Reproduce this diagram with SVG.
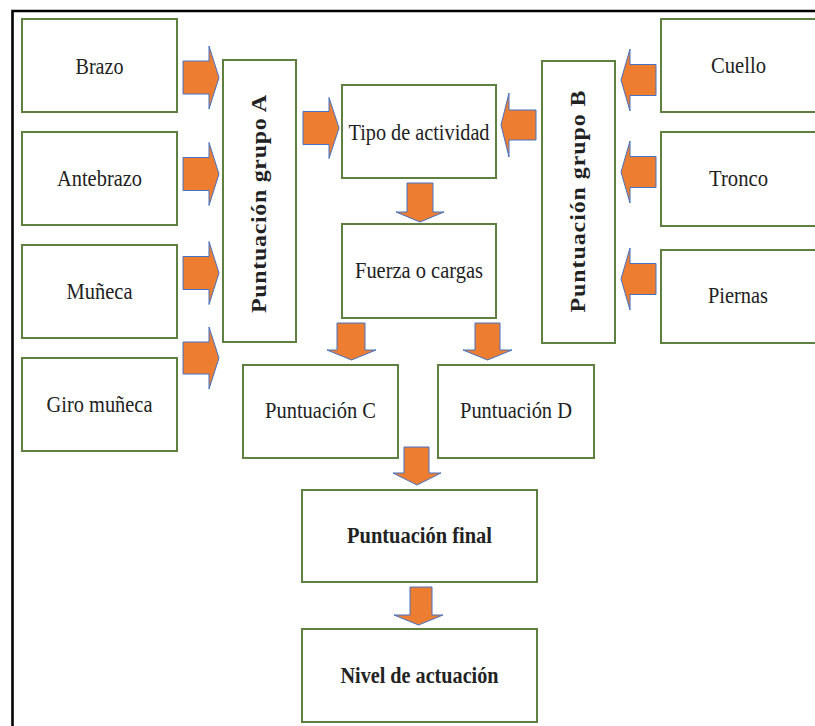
<svg xmlns="http://www.w3.org/2000/svg" width="815" height="726" viewBox="0 0 815 726">
<style>
.box{fill:#fff;stroke:#5E8040;stroke-width:2}
.t{font-family:'Liberation Serif','DejaVu Serif',serif;font-size:24px;fill:#222;text-anchor:middle;font-weight:normal}
.b{font-weight:bold}
.ar{fill:#ED7D31;stroke:#4472C4;stroke-width:1;stroke-linejoin:miter}
</style>
<rect width="815" height="726" fill="#fff"/>
<g id="frame" stroke="#000" stroke-width="2.6" fill="none">
<path d="M12.5 726 V11 H815"/>
</g>
<g id="n-brazo"><rect class="box" x="22" y="19" width="155" height="93"/><text class="t" x="99.5" y="74" textLength="48" lengthAdjust="spacingAndGlyphs">Brazo</text></g>
<g id="n-antebrazo"><rect class="box" x="22" y="132" width="155" height="93"/><text class="t" x="99.5" y="186" textLength="85" lengthAdjust="spacingAndGlyphs">Antebrazo</text></g>
<g id="n-muneca"><rect class="box" x="22" y="245" width="155" height="93"/><text class="t" x="99.5" y="299" textLength="66" lengthAdjust="spacingAndGlyphs">Muñeca</text></g>
<g id="n-giro"><rect class="box" x="22" y="358" width="155" height="93"/><text class="t" x="99.5" y="412" textLength="106" lengthAdjust="spacingAndGlyphs">Giro muñeca</text></g>
<g id="n-grupoA"><rect class="box" x="223" y="60" width="73" height="282"/><text class="t b" transform="translate(266,204) rotate(-90) scale(1,0.85)" x="0" y="0" textLength="218" lengthAdjust="spacing">Puntuación grupo A</text></g>
<g id="n-tipo"><rect class="box" x="342" y="85" width="154" height="93"/><text class="t" x="419" y="140" textLength="141" lengthAdjust="spacingAndGlyphs">Tipo de actividad</text></g>
<g id="n-fuerza"><rect class="box" x="342" y="224" width="154" height="94"/><text class="t" x="419" y="278" textLength="128" lengthAdjust="spacingAndGlyphs">Fuerza o cargas</text></g>
<g id="n-grupoB"><rect class="box" x="542" y="61" width="73" height="282"/><text class="t b" transform="translate(585,201.5) rotate(-90) scale(1,0.85)" x="0" y="0" textLength="222" lengthAdjust="spacing">Puntuación grupo B</text></g>
<g id="n-cuello"><rect class="box" x="661" y="19" width="160" height="93"/><text class="t" x="738.5" y="73" textLength="55" lengthAdjust="spacingAndGlyphs">Cuello</text></g>
<g id="n-tronco"><rect class="box" x="661" y="132" width="160" height="94"/><text class="t" x="738.5" y="186" textLength="59" lengthAdjust="spacingAndGlyphs">Tronco</text></g>
<g id="n-piernas"><rect class="box" x="661" y="250" width="160" height="93"/><text class="t" x="738" y="303" textLength="60" lengthAdjust="spacingAndGlyphs">Piernas</text></g>
<g id="n-puntC"><rect class="box" x="243" y="365" width="155" height="93"/><text class="t" x="320.5" y="418" textLength="111" lengthAdjust="spacingAndGlyphs">Puntuación C</text></g>
<g id="n-puntD"><rect class="box" x="438" y="365" width="156" height="93"/><text class="t" x="516" y="418" textLength="112" lengthAdjust="spacingAndGlyphs">Puntuación D</text></g>
<g id="n-final"><rect class="box" x="302" y="490" width="235" height="92"/><text class="t b" x="419.5" y="543" textLength="145" lengthAdjust="spacingAndGlyphs">Puntuación final</text></g>
<g id="n-nivel"><rect class="box" x="302" y="629" width="235" height="93"/><text class="t b" x="419.5" y="683" textLength="158" lengthAdjust="spacingAndGlyphs">Nivel de actuación</text></g>
<g id="connectors">
<path class="ar" d="M183 61 H209 V46 L219 77.5 L209 109 V94 H183 Z"/>
<path class="ar" d="M183 157.5 H209 V142.5 L219 174 L209 205.5 V190.5 H183 Z"/>
<path class="ar" d="M183 256.5 H209 V241.5 L219 273 L209 304.5 V289.5 H183 Z"/>
<path class="ar" d="M183 342 H209 V327 L219 358 L209 389 V374 H183 Z"/>
<path class="ar" d="M303 111.5 H329 V97.5 L339 128 L329 158.5 V144.5 H303 Z"/>
<path class="ar" d="M536 110 H509 V93 L501 125 L509 157 V140 H536 Z"/>
<path class="ar" d="M656 64.5 H630 V49 L621 80 L630 111 V95.5 H656 Z"/>
<path class="ar" d="M656 156.5 H630 V141 L621 172 L630 203 V187.5 H656 Z"/>
<path class="ar" d="M656 263.5 H630 V248 L621 279 L630 310 V294.5 H656 Z"/>
<path class="ar" d="M407 183 V212 H396 L420 222 L444 212 H433 V183 Z"/>
<path class="ar" d="M337 323 V350 H327 L351.5 360 L376 350 H365 V323 Z"/>
<path class="ar" d="M475 323 V350 H463 L487.5 360 L512 350 H500 V323 Z"/>
<path class="ar" d="M404 447 V473 H393 L417 485 L441 473 H429 V447 Z"/>
<path class="ar" d="M410 587 V615 H394 L418.5 625 L443 615 H432 V587 Z"/>
</g>
</svg>
